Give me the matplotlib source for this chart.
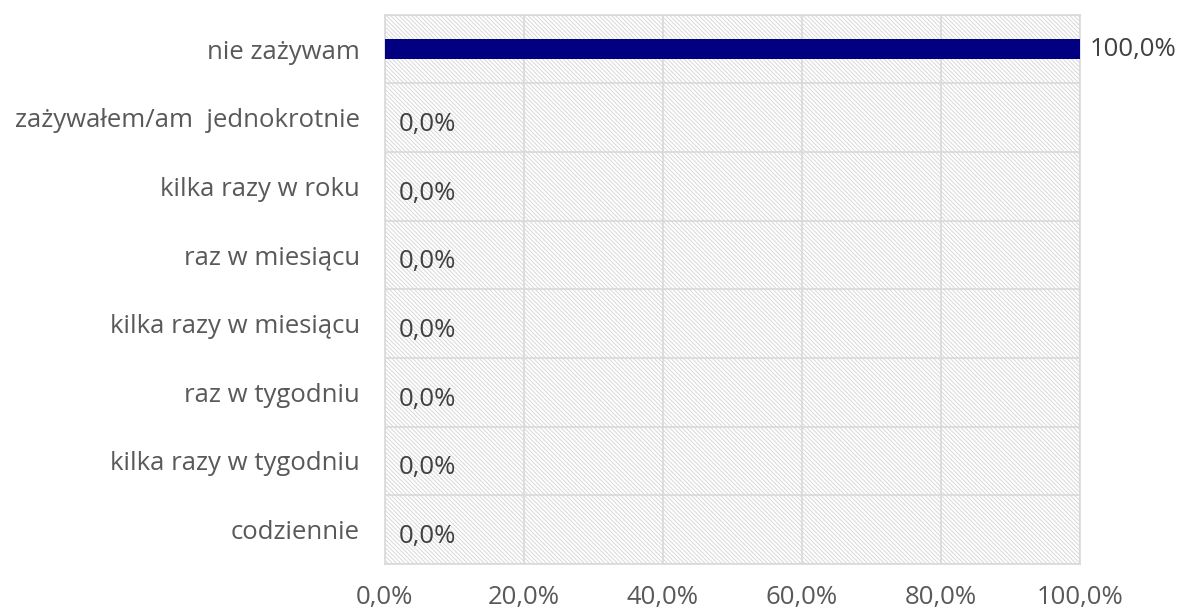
import matplotlib
matplotlib.use("Agg")
import matplotlib.pyplot as plt
from matplotlib.patches import Rectangle
import numpy as np

categories = ["nie zażywam", "zażywałem/am  jednokrotnie", "kilka razy w roku",
              "raz w miesiącu", "kilka razy w miesiącu", "raz w tygodniu",
              "kilka razy w tygodniu", "codziennie"]
values = [100.0, 0.0, 0.0, 0.0, 0.0, 0.0, 0.0, 0.0]
xticks = [0, 20, 40, 60, 80, 100]
xticklabels = ["0,0%", "20,0%", "40,0%", "60,0%", "80,0%", "100,0%"]

plt.rcParams['font.family'] = ['Open Sans', 'DejaVu Sans']
plt.rcParams['hatch.color'] = '#d8d8d8'
plt.rcParams['hatch.linewidth'] = 0.7

fig = plt.figure(figsize=(11.84, 6.15), dpi=100)
ax = fig.add_axes([0.325, 0.083, 0.587, 0.893])
ax.set_facecolor('white')
ax.add_patch(Rectangle((0, 0), 1, 1, transform=ax.transAxes, facecolor='white',
                       edgecolor='#d8d8d8', linewidth=0, hatch='\\' * 8, zorder=0))

y = np.arange(len(categories))
ax.barh(y, values, height=0.29, color='#000080', zorder=3)

ax.set_xlim(0, 100)
ax.set_ylim(len(categories) - 0.5, -0.5)
ax.set_yticks(y)
ax.set_yticklabels(categories)
ax.set_yticks(np.arange(-0.5, len(categories), 1), minor=True)
ax.set_xticks(xticks)
ax.set_xticklabels(xticklabels)

ax.grid(True, axis='x', which='major', color='#d9d9d9', linewidth=1.2, zorder=1)
ax.grid(True, axis='y', which='minor', color='#d9d9d9', linewidth=1.2, zorder=1)
ax.set_axisbelow(True)
for s in ax.spines.values():
    s.set_color('#d9d9d9')
    s.set_linewidth(1.2)
ax.tick_params(axis='both', which='both', length=0, colors='#595959', labelsize=18.5)
ax.tick_params(axis='y', pad=18)
ax.tick_params(axis='x', pad=15)

for yi, v in zip(y, values):
    lbl = f"{v:.1f}".replace('.', ',') + "%"
    if v > 0:
        ax.annotate(lbl, (v, yi), xytext=(7, 0), textcoords='offset points',
                    va='center', ha='left', fontsize=18.5, color='#404040',
                    annotation_clip=False)
    else:
        ax.annotate(lbl, (v, yi), xytext=(10, -5), textcoords='offset points',
                    va='center', ha='left', fontsize=18.5, color='#404040')

fig.savefig("out.png", dpi=100)
